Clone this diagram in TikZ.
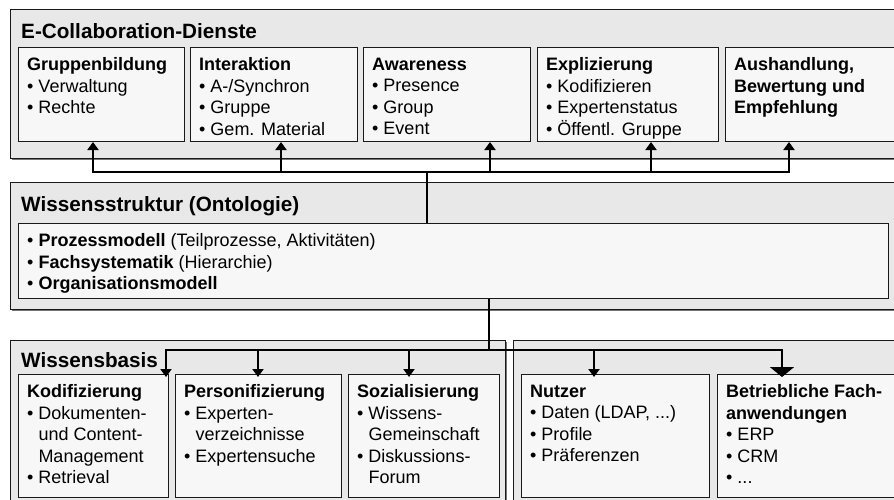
\documentclass[tikz,border=0pt]{standalone}
\usepackage{fontspec}
\setmainfont{Liberation Sans}
\usetikzlibrary{arrows.meta,positioning,calc,shadows}
\definecolor{panelgray}{RGB}{232,232,232}
\definecolor{cardgray}{RGB}{247,247,247}
\definecolor{linegray}{RGB}{25,25,25}
\newcommand{\bodyfont}{\fontsize{18}{21.5}\selectfont}
\newcommand{\indentpad}{\phantom{• }}

\begin{document}
\begin{tikzpicture}[
    x=1pt, y=-1pt,
    panel/.style={rectangle, draw=linegray, line width=1.2pt, fill=panelgray,
                  anchor=north west, inner sep=0pt,
                  drop shadow={shadow xshift=1.5pt, shadow yshift=-1.5pt, fill=black!55, opacity=1}},
    card/.style={rectangle, draw=linegray, line width=1pt, fill=cardgray,
                 anchor=north west, inner sep=0pt},
    head/.style={anchor=base west, inner sep=0pt, font=\fontsize{20.7}{24}\selectfont\bfseries},
    body/.style={anchor=north west, align=left, inner xsep=9pt, inner ysep=10.5pt, font=\bodyfont},
    trunk/.style={line width=2pt},
    arrow/.style={-{Triangle[width=11pt,length=8pt]}, line width=2pt},
    bigarrow/.style={-{Triangle[width=24pt,length=10pt]}, line width=2pt}
]
\useasboundingbox (0,0) rectangle (894,499);
\clip (0,0) rectangle (894,499);

% E-Collaboration-Dienste
\node[panel, minimum width=900pt, minimum height=149pt] (ecd) at (10,9) {};
\node[head] (ecd-h) at ($(ecd.north west)+(11,29.5)$) {E-Collaboration-Dienste};

\node[card, minimum width=166pt, minimum height=94pt] (grp) at (18,47) {};
\node[card, minimum width=167pt, minimum height=94pt] (ia) at (190,47) {};
\node[card, minimum width=167pt, minimum height=94pt] (aw) at (363,47) {};
\node[card, minimum width=181pt, minimum height=94pt] (ex) at (537,47) {};
\node[card, minimum width=190pt, minimum height=94pt] (au) at (725,47) {};

\node[body] (grp-t) at (grp.north west) {\textbf{Gruppenbildung}\\• Verwaltung\\• Rechte};
\node[body] (ia-t) at (ia.north west) {\textbf{Interaktion}\\• A-/Synchron\\• Gruppe\\• Gem. Material};
\node[body] (aw-t) at (aw.north west) {\textbf{Awareness}\\• Presence\\• Group\\• Event};
\node[body] (ex-t) at (ex.north west) {\textbf{Explizierung}\\• Kodifizieren\\• Expertenstatus\\• Öffentl. Gruppe};
\node[body] (au-t) at (au.north west) {\textbf{Aushandlung,}\\\textbf{Bewertung und}\\\textbf{Empfehlung}};

% Wissensstruktur
\node[panel, minimum width=900pt, minimum height=127pt] (ws) at (10,182) {};
\node[head] (ws-h) at ($(ws.north west)+(11,29.5)$) {Wissensstruktur (Ontologie)};
\node[card, minimum width=870pt, minimum height=75pt] (ws-in) at (18,223) {};
\node[body] (ws-t) at (ws-in.north west)
     {• \textbf{Prozessmodell} (Teilprozesse, Aktivitäten)\\• \textbf{Fachsystematik} (Hierarchie)\\• \textbf{Organisationsmodell}};

% Wissensbasis and Systeme
\node[panel, minimum width=495pt, minimum height=170pt] (wb) at (10,340) {};
\node[head] (wb-h) at ($(wb.north west)+(11,27.5)$) {Wissensbasis};
\node[panel, minimum width=390pt, minimum height=170pt] (sys) at (513,340) {};

\node[card, minimum width=150pt, minimum height=123pt] (kod) at (18,374) {};
\node[card, minimum width=166pt, minimum height=123pt] (pers) at (175,374) {};
\node[card, minimum width=151pt, minimum height=123pt] (soz) at (348,374) {};
\node[card, minimum width=188pt, minimum height=123pt] (nutz) at (521,374) {};
\node[card, minimum width=190pt, minimum height=123pt] (betr) at (717,374) {};

\node[body] (kod-t) at (kod.north west) {\textbf{Kodifizierung}\\• Dokumenten-\\\indentpad und Content-\\\indentpad Management\\• Retrieval};
\node[body] (pers-t) at (pers.north west) {\textbf{Personifizierung}\\• Experten-\\\indentpad verzeichnisse\\• Expertensuche};
\node[body] (soz-t) at (soz.north west) {\textbf{Sozialisierung}\\• Wissens-\\\indentpad Gemeinschaft\\• Diskussions-\\\indentpad Forum};
\node[body] (nutz-t) at (nutz.north west) {\textbf{Nutzer}\\• Daten (LDAP, ...)\\• Profile\\• Präferenzen};
\node[body] (betr-t) at (betr.north west) {\textbf{Betriebliche Fach-}\\\textbf{anwendungen}\\• ERP\\• CRM\\• ...};

% Arrows up to the services
\coordinate (bus-up) at (427,172);
\draw[trunk] (ws-in.north -| bus-up) -- (bus-up);
\draw[arrow] (bus-up) -| ($(grp.south west)+(75,0)$);
\draw[arrow] (bus-up) -| ($(ia.south west)+(91,0)$);
\draw[arrow] (bus-up) -| ($(aw.south west)+(127,0)$);
\draw[arrow] (bus-up) -| ($(ex.south west)+(114,0)$);
\draw[arrow] (bus-up) -| ($(au.south west)+(64,0)$);

% Arrows down to the knowledge base
\coordinate (bus-down) at (489,350);
\draw[trunk] (ws-in.south -| bus-down) -- (bus-down);
\draw[arrow] (bus-down) -| ($(kod.north east)+(-3,3)$);
\draw[arrow] (bus-down) -| ($(pers.north west)+(83,3)$);
\draw[arrow] (bus-down) -| ($(soz.north west)+(61,3)$);
\draw[arrow] (bus-down) -| ($(nutz.north west)+(73,3)$);
\draw[bigarrow] (bus-down) -| ($(betr.north west)+(65,3)$);

\end{tikzpicture}
\end{document}
